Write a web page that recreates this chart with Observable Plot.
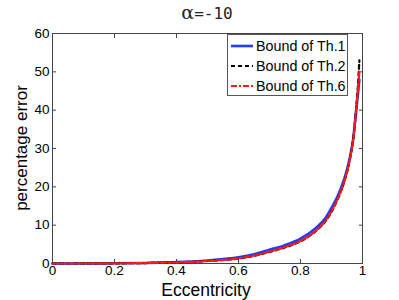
<!DOCTYPE html>
<html><head><meta charset="utf-8">
<script src="https://cdn.jsdelivr.net/npm/d3@7"></script>
<script src="https://cdn.jsdelivr.net/npm/@observablehq/plot@0.6"></script>
<style>
body{margin:0;background:#fff;}
#wrap{position:relative;width:399px;height:300px;font-family:"Liberation Sans",Arial,sans-serif;}
#title{position:absolute;left:0;width:414px;top:1px;text-align:center;font-size:19px;color:#222;}
#title .a{font-family:"DejaVu Serif",serif;}
#title .n{font-family:"DejaVu Sans Mono",monospace;font-size:16px;}
#legend{position:absolute;left:227px;top:34px;width:121px;height:62px;border:1px solid #555;background:#fff;box-sizing:border-box;font-size:14.3px;}
.row{position:absolute;left:2px;height:20px;display:flex;align-items:center;}
.row svg{margin-right:2px;}
</style>
</head><body>
<div id="wrap"><div id="title"><span class="a">α</span><span class="n">=-10</span></div></div>
<script>
const ecc = [0,0.1,0.2,0.3,0.4,0.5,0.6,0.65,0.7,0.75,0.8,0.85,0.88,0.9,0.92,0.94,0.95,0.96,0.97,0.98,0.985,0.99];
const th1 = [0,0.01,0.05,0.15,0.35,0.8,1.6,2.4,3.6,4.8,6.5,9.3,11.8,14.5,17.6,21.8,24.5,28,32.5,40,44,48];
const th2 = [0,0.01,0.04,0.12,0.3,0.65,1.3,2.0,3.0,4.2,5.8,8.5,11,13.5,16.8,21,23.8,27.5,32.5,41,46,53];
const th6 = [0,0.01,0.04,0.12,0.3,0.65,1.35,2.05,3.1,4.3,5.9,8.6,11.1,13.6,16.9,21.1,23.9,27.5,32.3,40.5,45,50];
const seriesNames = ["Bound of Th.1","Bound of Th.2","Bound of Th.6"];
const xTicks = [0,0.2,0.4,0.6,0.8,1];
const yTicks = [0,10,20,30,40,50,60];

const styles = [
  {stroke:"#1f3dff", strokeWidth:2.6, dash:null},
  {stroke:"#000", strokeWidth:2.2, dash:"4,3"},
  {stroke:"#ff1a1a", strokeWidth:2.2, dash:"6,2,2,2"}
];
const vals = [th1, th2, th6];
const data = vals.map((v,i)=> ecc.map((e,j)=>({x:e, y:v[j], s:seriesNames[i]})));

const chart = Plot.plot({
  width:399, height:300,
  marginLeft:52, marginRight:37, marginTop:33, marginBottom:37,
  style:{fontFamily:"Liberation Sans, Arial, sans-serif", fontSize:"13px", color:"#000", background:"transparent"},
  x:{domain:[0,1], ticks:xTicks},
  y:{domain:[0,60], ticks:yTicks},
  marks:[
    Plot.frame({stroke:"#444"}),
    Plot.axisX({ticks:xTicks, tickSize:-4, tickPadding:6, stroke:"#444", label:null, tickFormat:d=>String(d), fontSize:13.5}),
    Plot.axisX({anchor:"top", ticks:xTicks, tickSize:-4, stroke:"#444", label:null, tickFormat:()=>""}),
    Plot.axisY({ticks:yTicks, tickSize:-4, tickPadding:7, stroke:"#444", label:null, fontSize:13.5}),
    Plot.axisY({anchor:"right", ticks:yTicks, tickSize:-4, stroke:"#444", label:null, tickFormat:()=>""}),
    ...data.map((d,i)=>Plot.line(d,{x:"x", y:"y", curve:"monotone-x", stroke:styles[i].stroke, strokeWidth:styles[i].strokeWidth, strokeDasharray:styles[i].dash}))
  ]
});
const wrap = document.getElementById("wrap");
wrap.appendChild(chart);
const svg = d3.select(chart);
svg.append("text").attr("x",206).attr("y",296).attr("text-anchor","middle").attr("font-size",17.5).attr("fill","#000").text("Eccentricity");
svg.append("text").attr("transform","translate(27,148) rotate(-90)").attr("text-anchor","middle").attr("font-size",17).attr("fill","#000").text("percentage error");

const leg = document.createElement("div");
leg.id="legend";
seriesNames.forEach((n,i)=>{
  const r=document.createElement("div"); r.className="row"; r.style.top=(1+i*20)+"px";
  r.innerHTML=`<svg width="24" height="10"><line x1="1" x2="23" y1="5" y2="5" stroke="${styles[i].stroke}" stroke-width="${styles[i].strokeWidth}" ${styles[i].dash?`stroke-dasharray="${styles[i].dash}"`:""}/></svg><span>${n}</span>`;
  leg.appendChild(r);
});
wrap.appendChild(leg);
chart.style.position="absolute"; chart.style.left="0"; chart.style.top="0";
</script>
</body></html>
